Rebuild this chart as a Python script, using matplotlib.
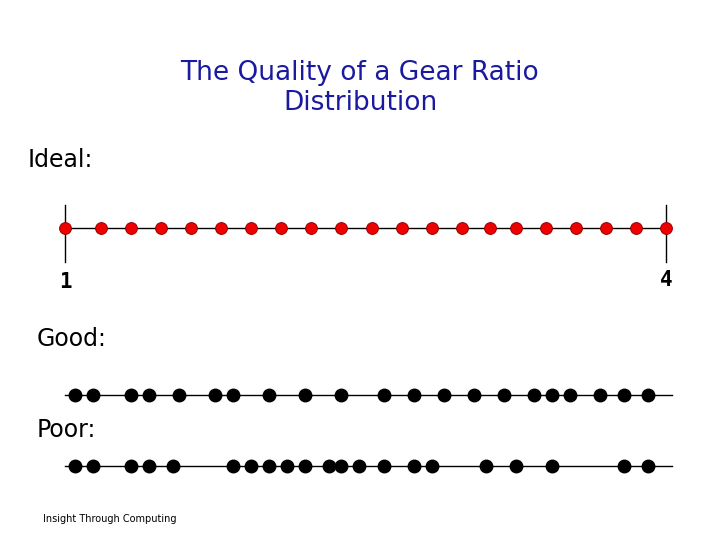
import matplotlib
matplotlib.use("Agg")
import matplotlib.pyplot as plt

# gear ratios (range 1..4)
ideal = [1.00, 1.18, 1.33, 1.48, 1.63, 1.78, 1.93, 2.08, 2.23, 2.38, 2.53,
         2.68, 2.83, 2.98, 3.12, 3.25, 3.40, 3.55, 3.70, 3.85, 4.00]
good = [1.05, 1.14, 1.33, 1.42, 1.57, 1.75, 1.84, 2.02, 2.20, 2.38, 2.59,
        2.74, 2.89, 3.04, 3.19, 3.34, 3.43, 3.52, 3.67, 3.79, 3.91]
poor = [1.05, 1.14, 1.33, 1.42, 1.54, 1.84, 1.93, 2.02, 2.11, 2.20, 2.32,
        2.38, 2.47, 2.59, 2.74, 2.83, 3.10, 3.25, 3.43, 3.79, 3.91]

W, H = 720, 540
fig = plt.figure(figsize=(7.2, 5.4), dpi=100)
ax = fig.add_axes([0, 0, 1, 1])
# x in ratio units, y in pixel rows (top = 0)
ax.set_xlim(1 - 65 / 200.33, 1 + 655 / 200.33)
ax.set_ylim(540, 0)
ax.axis("off")


def ptext(x, y, s, **kw):
    # place text by pixel position
    fig.text(x / W, 1 - y / H, s, **kw)


ptext(360, 88, "The Quality of a Gear Ratio\nDistribution", ha="center",
      va="center", fontsize=19, color="#1a1aa0", linespacing=1.2)

ptext(28, 160, "Ideal:", fontsize=17, va="center")
ax.plot([1, 4], [228, 228], color="black", lw=1)
ax.plot([1, 1], [205, 262], color="black", lw=1)
ax.plot([4, 4], [205, 262], color="black", lw=1)
ax.plot(ideal, [228] * len(ideal), "o", ms=8.5, color="#ee0000", mec="#990000", mew=0.7)
ax.text(1, 282, "1", ha="center", va="center", fontsize=15, fontweight="bold",
        family="DejaVu Sans Mono")
ax.text(4, 280, "4", ha="center", va="center", fontsize=15, fontweight="bold",
        family="DejaVu Sans Mono")

ptext(37, 339, "Good:", fontsize=17, va="center")
ax.plot([1, 4.03], [395, 395], color="black", lw=1)
ax.plot(good, [395] * len(good), "o", ms=9, color="black")

ptext(37, 430, "Poor:", fontsize=17, va="center")
ax.plot([1, 4.03], [466, 466], color="black", lw=1)
ax.plot(poor, [466] * len(poor), "o", ms=9, color="black")

ptext(43, 519, "Insight Through Computing", fontsize=7, va="center")

fig.savefig("out.png", dpi=100)
